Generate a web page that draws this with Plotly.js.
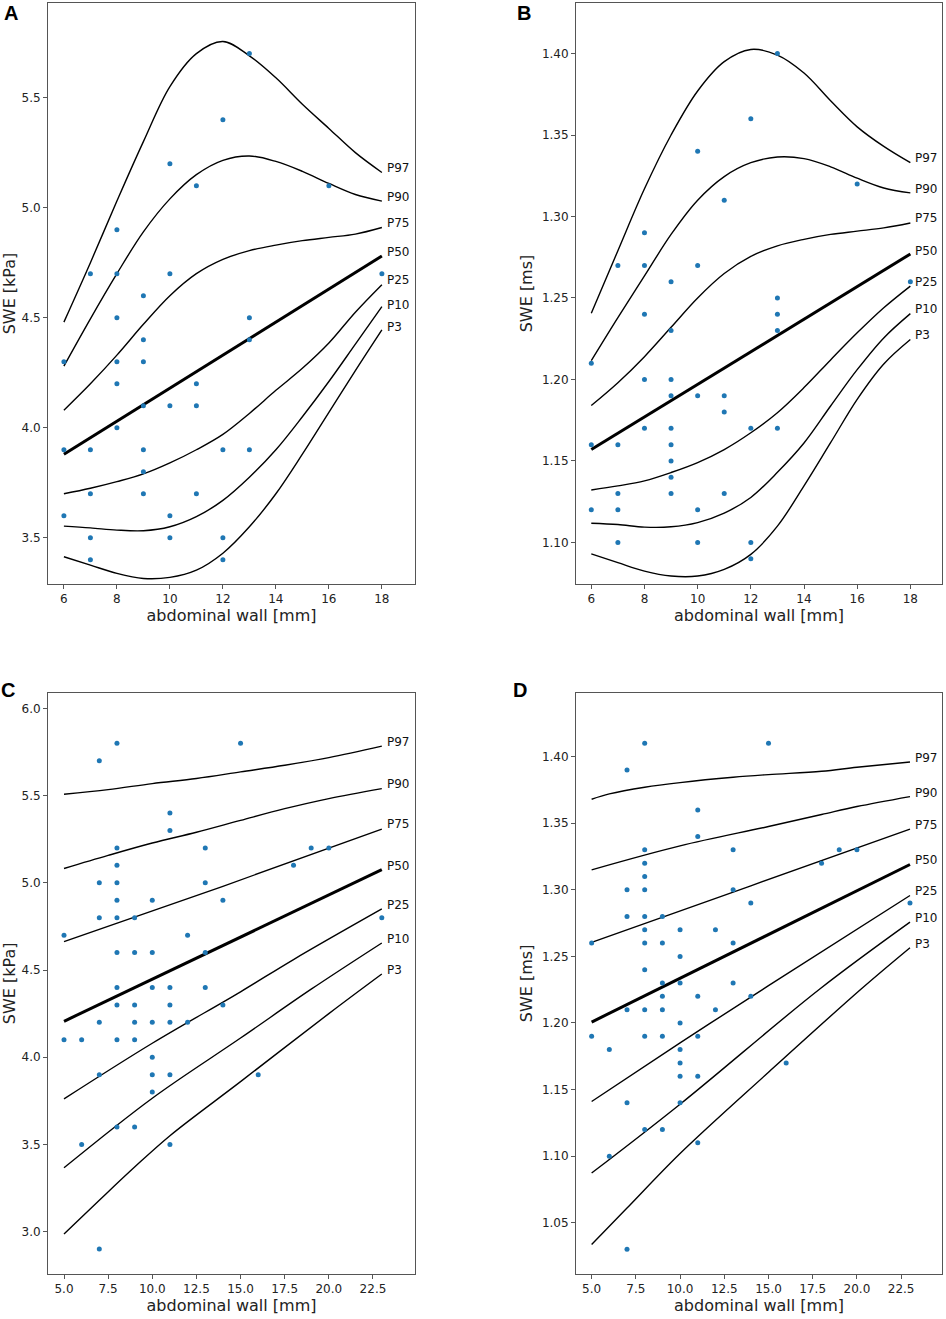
<!DOCTYPE html>
<html>
<head>
<meta charset="utf-8">
<script src="https://cdn.plot.ly/plotly-3.0.1.min.js"></script>
<style>html,body{margin:0;padding:0;background:#fff;}#chart{width:946px;height:1319px;}</style>
</head>
<body>
<div id="chart"></div>
<script>
// ---------- Panel A : SWE [kPa] (abdominal wall 6–18 mm) ----------
const aX = [13,12,10,11,16,8,7,8,10,18,9,8,13,13,9,6,8,9,8,11,9,10,11,8,6,7,9,12,13,9,7,9,11,6,10,7,10,12,7,12];
const aY = [5.7,5.4,5.2,5.1,5.1,4.9,4.7,4.7,4.7,4.7,4.6,4.5,4.5,4.4,4.4,4.3,4.3,4.3,4.2,4.2,4.1,4.1,4.1,4.0,3.9,3.9,3.9,3.9,3.9,3.8,3.7,3.7,3.7,3.6,3.6,3.5,3.5,3.5,3.4,3.4];
const aCurveX = [6,7,8,9,10,11,12,13,14,15,16,17,18];
const aP97 = [4.48,4.75,5.03,5.30,5.55,5.70,5.755,5.69,5.59,5.47,5.36,5.25,5.16];
const aP90 = [4.28,4.495,4.70,4.89,5.04,5.15,5.215,5.235,5.21,5.165,5.11,5.06,5.03];
const aP75 = [4.08,4.20,4.33,4.47,4.60,4.70,4.765,4.805,4.83,4.85,4.865,4.88,4.91];
const aP50X = [6,18];
const aP50 = [3.88,4.78];
const aP25 = [3.70,3.725,3.755,3.79,3.84,3.90,3.97,4.065,4.17,4.27,4.385,4.525,4.65];
const aP10 = [3.553,3.545,3.535,3.532,3.55,3.596,3.67,3.775,3.90,4.05,4.21,4.38,4.55];
const aP3  = [3.414,3.376,3.338,3.315,3.32,3.353,3.43,3.55,3.70,3.88,4.07,4.26,4.445];
const aLabelY = [5.18,5.05,4.93,4.80,4.67,4.56,4.46];

// ---------- Panel B : SWE [ms] (abdominal wall 6–18 mm) ----------
const bX = [13,12,10,16,11,8,7,8,10,9,18,13,8,13,9,13,6,8,9,9,10,11,11,8,9,12,13,6,7,9,9,9,7,9,11,6,7,10,7,10,12,12];
const bY = [1.40,1.36,1.34,1.32,1.31,1.29,1.27,1.27,1.27,1.26,1.26,1.25,1.24,1.24,1.23,1.23,1.21,1.20,1.20,1.19,1.19,1.19,1.18,1.17,1.17,1.17,1.17,1.16,1.16,1.16,1.15,1.14,1.13,1.13,1.13,1.12,1.12,1.12,1.10,1.10,1.10,1.09];
const bCurveX = [6,7,8,9,10,11,12,13,14,15,16,17,18];
const bP97 = [1.2406,1.279,1.317,1.350,1.377,1.395,1.4025,1.399,1.388,1.371,1.355,1.343,1.333];
const bP90 = [1.2116,1.238,1.2635,1.289,1.310,1.3245,1.333,1.3365,1.3355,1.3305,1.3235,1.3175,1.3145];
const bP75 = [1.184,1.198,1.214,1.232,1.250,1.265,1.2755,1.282,1.286,1.289,1.291,1.293,1.296];
const bP50X = [6,18];
const bP50 = [1.157,1.277];
const bP25 = [1.1322,1.1347,1.1378,1.1429,1.149,1.157,1.1673,1.1796,1.195,1.212,1.2286,1.244,1.2573];
const bP10 = [1.1118,1.111,1.1094,1.1096,1.1122,1.118,1.1276,1.143,1.161,1.1837,1.206,1.2255,1.2404];
const bP3  = [1.093,1.0876,1.0824,1.0794,1.0794,1.0835,1.0927,1.110,1.1347,1.1612,1.1878,1.2095,1.2245];
const bLabelY = [1.336,1.317,1.2988,1.279,1.26,1.243,1.227];

// ---------- Panel C : SWE [kPa] (abdominal wall 5–23 mm) ----------
const cX = [8,15,7,11,11,8,13,19,20,8,18,7,8,13,8,10,14,7,8,9,23,5,12,8,9,10,13,8,10,11,13,8,9,11,14,7,9,10,11,12,5,6,8,9,10,7,10,11,16,10,8,9,6,11,7];
const cY = [5.8,5.8,5.7,5.4,5.3,5.2,5.2,5.2,5.2,5.1,5.1,5.0,5.0,5.0,4.9,4.9,4.9,4.8,4.8,4.8,4.8,4.7,4.7,4.6,4.6,4.6,4.6,4.4,4.4,4.4,4.4,4.3,4.3,4.3,4.3,4.2,4.2,4.2,4.2,4.2,4.1,4.1,4.1,4.1,4.0,3.9,3.9,3.9,3.9,3.8,3.6,3.6,3.5,3.5,2.9];
const cP97X = [5,7.5,10,12.5,15,17.5,20,23];
const cP97 = [5.508,5.534,5.569,5.598,5.636,5.674,5.718,5.784];
const cP90X = [5,7.5,10,12.5,15,17.5,20,23];
const cP90 = [5.082,5.157,5.228,5.29,5.358,5.425,5.483,5.54];
const cP75X = [5,14,23];
const cP75 = [4.663,4.98,5.308];
const cP50X = [5,23];
const cP50 = [4.206,5.075];
const cP25X = [5,10,15,18,23];
const cP25 = [3.761,4.08,4.375,4.56,4.85];
const cP10X = [5,10,15,19,23];
const cP10 = [3.366,3.765,4.11,4.39,4.655];
const cP3X = [5,7,9,11,15,20,23];
const cP3 = [2.987,3.18,3.37,3.55,3.86,4.25,4.477];
const cLabelY = [5.81,5.565,5.335,5.094,4.87,4.68,4.50];

// ---------- Panel D : SWE [ms] (abdominal wall 5–23 mm) ----------
const dX = [8,15,7,11,11,8,13,19,20,8,18,8,7,8,13,14,23,7,8,9,8,10,12,5,8,9,13,10,8,9,10,13,9,11,14,7,8,9,12,10,5,8,9,11,6,10,10,16,10,11,7,10,8,9,11,6,7];
const dY = [1.41,1.41,1.39,1.36,1.34,1.33,1.33,1.33,1.33,1.32,1.32,1.31,1.30,1.30,1.30,1.29,1.29,1.28,1.28,1.28,1.27,1.27,1.27,1.26,1.26,1.26,1.26,1.25,1.24,1.23,1.23,1.23,1.22,1.22,1.22,1.21,1.21,1.21,1.21,1.20,1.19,1.19,1.19,1.19,1.18,1.18,1.17,1.17,1.16,1.16,1.14,1.14,1.12,1.12,1.11,1.10,1.03];
const dP97X = [5,6,8,10,13,15,18,20,23];
const dP97 = [1.368,1.372,1.377,1.3805,1.3845,1.3865,1.389,1.392,1.396];
const dP90X = [5,10,15,18,20,23];
const dP90 = [1.315,1.333,1.3475,1.3565,1.3625,1.37];
const dP75X = [5,14,23];
const dP75 = [1.2605,1.303,1.3455];
const dP50X = [5,23];
const dP50 = [1.2007,1.319];
const dP25X = [5,10,15,23];
const dP25 = [1.141,1.185,1.228,1.2957];
const dP10X = [5,10,17.9,23];
const dP10 = [1.0873,1.139,1.2255,1.2757];
const dP3X = [5,7,10,15,20.24,23];
const dP3 = [1.0337,1.061,1.102,1.163,1.2255,1.2565];
const dLabelY = [1.399,1.373,1.3485,1.3225,1.299,1.279,1.2593];

const pctNames = ['P97','P90','P75','P50','P25','P10','P3'];

// ---------- build ----------
const W = 946, H = 1319;
const FONT = 'DejaVu Sans, Liberation Sans, sans-serif';
const traces = [];
const annotations = [];

function addPanel(xa, ya, ptsX, ptsY, curves, labelX, labelY) {
  curves.forEach((c, i) => {
    traces.push({
      type: 'scatter', mode: 'lines', x: c[0], y: c[1],
      xaxis: xa, yaxis: ya, hoverinfo: 'skip',
      line: {color: '#000', width: pctNames[i] === 'P50' ? 3 : 1.4, shape: c[0].length > 2 ? 'spline' : 'linear', smoothing: 1},
      name: pctNames[i]
    });
  });
  traces.push({
    type: 'scatter', mode: 'markers', x: ptsX, y: ptsY,
    xaxis: xa, yaxis: ya, marker: {color: '#1f77b4', size: 5}, name: 'data'
  });
  pctNames.forEach((n, i) => {
    annotations.push({
      xref: xa, yref: ya, x: labelX, y: labelY[i], text: n,
      xanchor: 'left', yanchor: 'middle', xshift: 3, showarrow: false,
      font: {family: FONT, size: 12, color: '#111'}
    });
  });
}

addPanel('x', 'y', aX, aY,
  [[aCurveX,aP97],[aCurveX,aP90],[aCurveX,aP75],[aP50X,aP50],[aCurveX,aP25],[aCurveX,aP10],[aCurveX,aP3]], 18, aLabelY);
addPanel('x2', 'y2', bX, bY,
  [[bCurveX,bP97],[bCurveX,bP90],[bCurveX,bP75],[bP50X,bP50],[bCurveX,bP25],[bCurveX,bP10],[bCurveX,bP3]], 18, bLabelY);
addPanel('x3', 'y3', cX, cY,
  [[cP97X,cP97],[cP90X,cP90],[cP75X,cP75],[cP50X,cP50],[cP25X,cP25],[cP10X,cP10],[cP3X,cP3]], 23, cLabelY);
addPanel('x4', 'y4', dX, dY,
  [[dP97X,dP97],[dP90X,dP90],[dP75X,dP75],[dP50X,dP50],[dP25X,dP25],[dP10X,dP10],[dP3X,dP3]], 23, dLabelY);

// panel letters
[['A',11,13],['B',524,13],['C',8,690],['D',520,690]].forEach(l => {
  annotations.push({
    xref: 'paper', yref: 'paper', x: l[1] / W, y: 1 - l[2] / H, text: '<b>' + l[0] + '</b>',
    xanchor: 'center', yanchor: 'middle', showarrow: false,
    font: {family: 'Liberation Sans, Arial, sans-serif', size: 20, color: '#000'}
  });
});

function axisBase(extra) {
  return Object.assign({
    showgrid: false, zeroline: false, showline: true, mirror: true,
    linecolor: '#555', linewidth: 1, ticks: 'outside', ticklen: 4, tickcolor: '#555',
    tickfont: {family: FONT, size: 12, color: '#222'}, automargin: false
  }, extra);
}
function xTitle() { return {text: 'abdominal wall [mm]', font: {family: FONT, size: 16, color: '#222'}, standoff: 4}; }
function yTitle(t) { return {text: t, font: {family: FONT, size: 16, color: '#222'}, standoff: 5}; }

const xdomL = [48 / W, 415 / W], xdomR = [576 / W, 942 / W];
const ydomT = [(H - 584) / H, (H - 3) / H], ydomB = [(H - 1274) / H, (H - 692.7) / H];

const layout = {
  width: W, height: H, margin: {l: 0, r: 0, t: 0, b: 0},
  paper_bgcolor: '#fff', plot_bgcolor: '#fff', showlegend: false,
  font: {family: FONT},
  xaxis:  axisBase({domain: xdomL, anchor: 'y',  range: [5.4, 19.25], tickvals: [6,8,10,12,14,16,18], title: xTitle()}),
  yaxis:  axisBase({domain: ydomT, anchor: 'x',  range: [3.29, 5.93], tickvals: [3.5,4.0,4.5,5.0,5.5], tickformat: '.1f', title: yTitle('SWE [kPa]')}),
  xaxis2: axisBase({domain: xdomR, anchor: 'y2', range: [5.425, 19.19], tickvals: [6,8,10,12,14,16,18], title: xTitle()}),
  yaxis2: axisBase({domain: ydomT, anchor: 'x2', range: [1.0745, 1.431], tickvals: [1.10,1.15,1.20,1.25,1.30,1.35,1.40], tickformat: '.2f', title: yTitle('SWE [ms]')}),
  xaxis3: axisBase({domain: xdomL, anchor: 'y3', range: [4.094, 24.88], tickvals: [5,7.5,10,12.5,15,17.5,20,22.5], tickformat: '.1f', title: xTitle()}),
  yaxis3: axisBase({domain: ydomB, anchor: 'x3', range: [2.757, 6.09], tickvals: [3.0,3.5,4.0,4.5,5.0,5.5,6.0], tickformat: '.1f', title: yTitle('SWE [kPa]')}),
  xaxis4: axisBase({domain: xdomR, anchor: 'y4', range: [4.116, 24.81], tickvals: [5,7.5,10,12.5,15,17.5,20,22.5], tickformat: '.1f', title: xTitle()}),
  yaxis4: axisBase({domain: ydomB, anchor: 'x4', range: [1.0115, 1.448], tickvals: [1.05,1.10,1.15,1.20,1.25,1.30,1.35,1.40], tickformat: '.2f', title: yTitle('SWE [ms]')}),
  annotations: annotations
};

Plotly.newPlot('chart', traces, layout, {staticPlot: true, displayModeBar: false});
</script>
</body>
</html>
